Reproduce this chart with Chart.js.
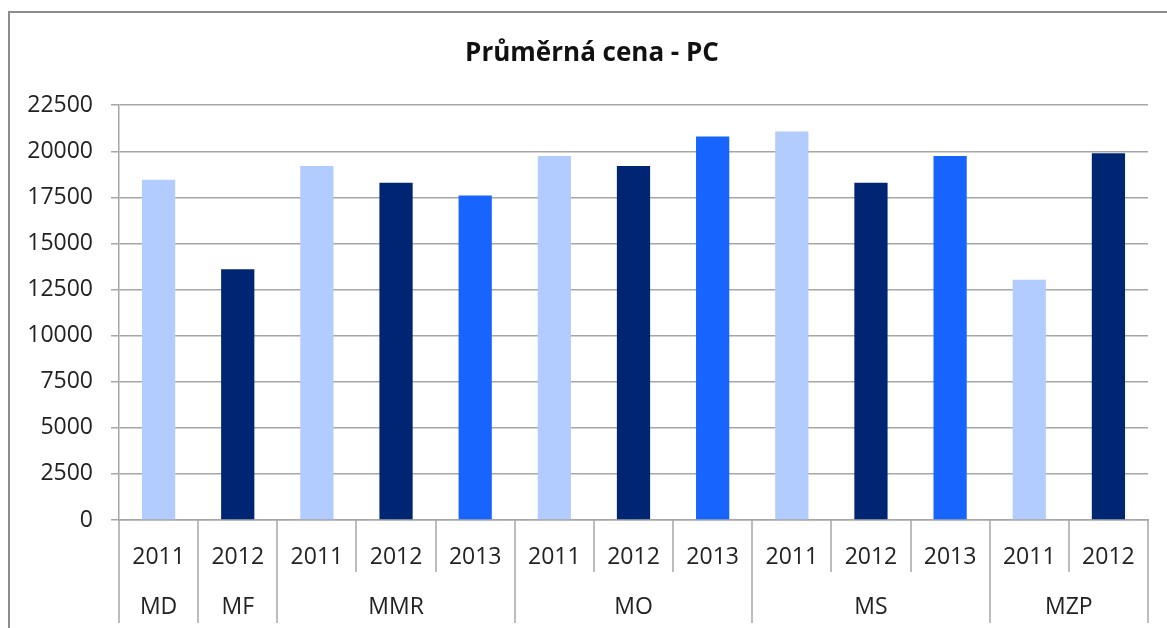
<!DOCTYPE html>
<html>
<head>
<meta charset="utf-8">
<script src="https://cdn.jsdelivr.net/npm/chart.js@4.4.1/dist/chart.umd.min.js"></script>
<style>
  html, body { margin: 0; padding: 0; background: #fff; overflow: hidden; }
  #ramecek { position: absolute; left: 8px; top: 11px; width: 1200px; height: 700px; border: 2px solid #8c8c8c; }
  #obal { position: absolute; left: 0; top: 0; width: 1167px; height: 628px; overflow: hidden; }
</style>
</head>
<body>
<div id="ramecek"></div>
<div id="obal"><canvas id="graf" width="1184" height="628"></canvas></div>
<script>
// data
const roky    = ['2011', '2012', '2011', '2012', '2013', '2011', '2012', '2013', '2011', '2012', '2013', '2011', '2012'];
const resorty = ['MD', 'MF', 'MMR', 'MMR', 'MMR', 'MO', 'MO', 'MO', 'MS', 'MS', 'MS', 'MZP', 'MZP'];
const ceny    = [18450, 13600, 19200, 18300, 17600, 19750, 19200, 20800, 21070, 18300, 19750, 13030, 19900];
const barvyRoku = { '2011': '#B3CCFF', '2012': '#002673', '2013': '#1764FF' };
const osaYMax = 22500;
const osaYKrok = 2500;

const pismo = '"Open Sans", "Noto Sans", sans-serif';
const sedaMrizka = '#a6a6a6';

// spodni tabulka: svisle oddelovace a nazvy resortu
const skupinyPlugin = {
  id: 'skupiny',
  afterDraw(chart) {
    const x = chart.scales.x;
    const ctx = chart.ctx;
    const dno = chart.chartArea.bottom;
    const sirka = x.getPixelForValue(1) - x.getPixelForValue(0);
    ctx.save();
    ctx.strokeStyle = sedaMrizka;
    ctx.lineWidth = 1.5;
    for (let i = 0; i <= resorty.length; i++) {
      const hranice = i === 0 || i === resorty.length || resorty[i] !== resorty[i - 1];
      const px = Math.round(x.getPixelForValue(0) - sirka / 2 + i * sirka);
      ctx.beginPath();
      ctx.moveTo(px, dno);
      ctx.lineTo(px, hranice ? dno + 103 : dno + 52);
      ctx.stroke();
    }
    ctx.fillStyle = '#222';
    ctx.font = '23px ' + pismo;
    ctx.textAlign = 'center';
    ctx.textBaseline = 'middle';
    let zacatek = 0;
    for (let i = 1; i <= resorty.length; i++) {
      if (i === resorty.length || resorty[i] !== resorty[zacatek]) {
        const stred = (x.getPixelForValue(zacatek) + x.getPixelForValue(i - 1)) / 2;
        ctx.fillText(resorty[zacatek], stred, dno + 87);
        zacatek = i;
      }
    }
    ctx.restore();
  }
};

const ctx = document.getElementById('graf').getContext('2d');
new Chart(ctx, {
  type: 'bar',
  data: {
    labels: roky,
    datasets: [{
      label: 'Průměrná cena',
      data: ceny,
      backgroundColor: roky.map(r => barvyRoku[r]),
      barPercentage: 0.42,
      categoryPercentage: 1
    }]
  },
  options: {
    responsive: false,
    animation: false,
    devicePixelRatio: 1,
    layout: { padding: 0 },
    plugins: {
      legend: { display: false },
      tooltip: { enabled: false },
      title: {
        display: true,
        text: 'Průměrná cena - PC',
        color: '#111',
        font: { family: pismo, size: 26, weight: 'bold' },
        padding: { top: 38, bottom: 36 }
      }
    },
    scales: {
      x: {
        grid: { display: false },
        border: { display: true, color: sedaMrizka, width: 1.5 },
        ticks: { color: '#222', font: { family: pismo, size: 23 }, padding: 16, maxRotation: 0, autoSkip: false },
        afterFit: s => { s.height = 108; }
      },
      y: {
        min: 0,
        max: osaYMax,
        ticks: { stepSize: osaYKrok, color: '#222', font: { family: pismo, size: 23 }, padding: 18, callback: v => String(v) },
        grid: { color: sedaMrizka, lineWidth: 1.5, tickLength: 8 },
        border: { display: true, color: sedaMrizka, width: 1.5 },
        afterFit: s => { s.width = 119; }
      },
      // prazdna prava osa jen jako okraj, aby titulek zustal na stredu ramecku
      okraj: {
        type: 'linear',
        position: 'right',
        grid: { display: false },
        border: { display: false },
        ticks: { display: false },
        afterFit: s => { s.width = 36; }
      }
    }
  },
  plugins: [skupinyPlugin]
});
</script>
</body>
</html>
